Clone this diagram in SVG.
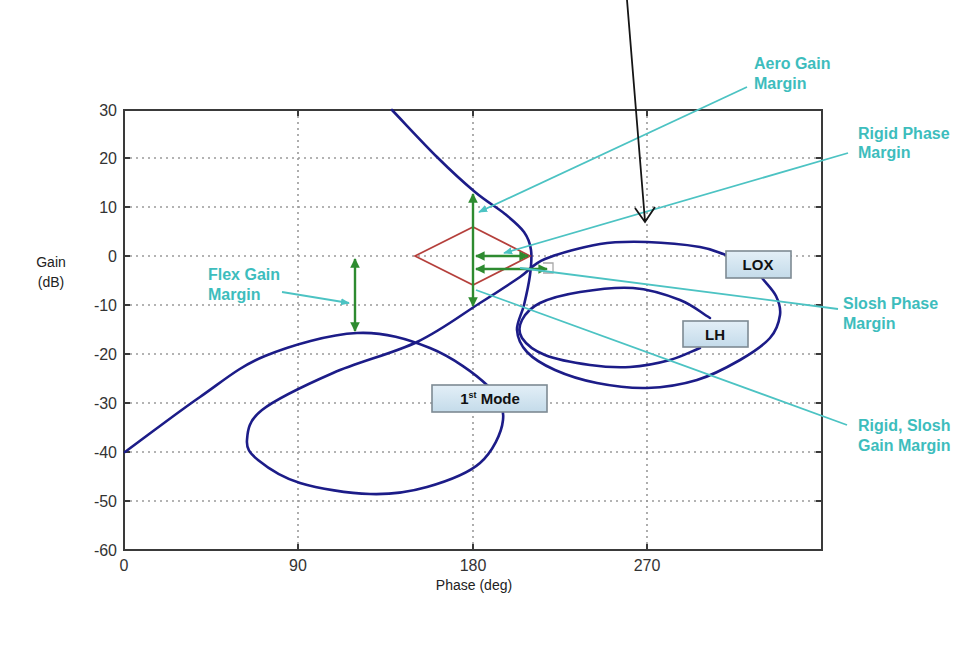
<svg xmlns="http://www.w3.org/2000/svg" width="973" height="668" viewBox="0 0 973 668">
<defs>
<style>
.grid{stroke:#9a9a9a;stroke-width:1.6;stroke-dasharray:2 4;fill:none}
.frame{stroke:#3a3a3a;stroke-width:2;fill:none}
.tick{stroke:#3a3a3a;stroke-width:2}
.ax{font-family:"Liberation Sans",Arial,sans-serif;font-size:16px;fill:#333}
.axl{font-family:"Liberation Sans",Arial,sans-serif;font-size:14px;fill:#222}
.curve{stroke:#1c1c88;stroke-width:2.6;fill:none;stroke-linejoin:round;stroke-linecap:round}
.green{stroke:#2e8b30;stroke-width:2.4;fill:none}
.cyan{stroke:#4cc3c3;stroke-width:1.8;fill:none}
.note{font-family:"Liberation Sans",Arial,sans-serif;font-size:16px;font-weight:bold;fill:#3dbdbd}
.box{fill:url(#boxg);stroke:#7d8a93;stroke-width:1.6}
.btxt{font-family:"Liberation Sans",Arial,sans-serif;font-size:15px;font-weight:bold;fill:#111;text-anchor:middle}
</style>
<linearGradient id="boxg" x1="0" y1="0" x2="0" y2="1">
<stop offset="0" stop-color="#e3eff7"/>
<stop offset="1" stop-color="#c4dbea"/>
</linearGradient>
<marker id="ga" viewBox="0 0 10 10" refX="9" refY="5" markerWidth="4" markerHeight="4" orient="auto-start-reverse">
<path d="M0,0 L10,5 L0,10 Z" fill="#2e8b30"/>
</marker>
<marker id="ca" viewBox="0 0 10 10" refX="9" refY="5" markerWidth="5" markerHeight="5" orient="auto">
<path d="M0,1 L10,5 L0,9 Z" fill="#4cc3c3"/>
</marker>
</defs>
<rect width="973" height="668" fill="#ffffff"/>

<g id="grid">
<path class="grid" d="M124,158H822M124,207H822M124,256H822M124,305H822M124,354H822M124,403H822M124,452H822M124,501H822M298,110V550M473,110V550M647,110V550"/>
<rect class="frame" x="124" y="110" width="698" height="440"/>
<path class="tick" d="M124,158h6M124,207h6M124,256h6M124,305h6M124,354h6M124,403h6M124,452h6M124,501h6M822,158h-6M822,207h-6M822,256h-6M822,305h-6M822,354h-6M822,403h-6M822,452h-6M822,501h-6M298,550v-6M473,550v-6M647,550v-6M298,110v6M473,110v6M647,110v6"/>
</g>

<g id="axis-labels">
<text class="ax" x="117" y="116" text-anchor="end">30</text>
<text class="ax" x="117" y="164" text-anchor="end">20</text>
<text class="ax" x="117" y="213" text-anchor="end">10</text>
<text class="ax" x="117" y="262" text-anchor="end">0</text>
<text class="ax" x="117" y="311" text-anchor="end">-10</text>
<text class="ax" x="117" y="360" text-anchor="end">-20</text>
<text class="ax" x="117" y="409" text-anchor="end">-30</text>
<text class="ax" x="117" y="458" text-anchor="end">-40</text>
<text class="ax" x="117" y="507" text-anchor="end">-50</text>
<text class="ax" x="117" y="556" text-anchor="end">-60</text>
<text class="ax" x="124" y="571" text-anchor="middle">0</text>
<text class="ax" x="298" y="571" text-anchor="middle">90</text>
<text class="ax" x="473" y="571" text-anchor="middle">180</text>
<text class="ax" x="647" y="571" text-anchor="middle">270</text>
<text class="axl" x="474" y="590" text-anchor="middle">Phase (deg)</text>
<text class="axl" x="51" y="267" text-anchor="middle">Gain</text>
<text class="axl" x="51" y="287" text-anchor="middle">(dB)</text>
</g>

<g id="curves">
<path id="main-curve" class="curve" d="M125,452 C150,433.7 176.7,413 200,397 S238.8,366.7 265,356 S329.5,334.3 357,333 S408.2,339.2 430,348 S475.8,374 488,386 S504.3,407.2 503,420 S492.7,451.8 480,463 S445.3,481.8 427,487 S391.2,494.7 370,494 S318.7,488.7 300,483 S266.8,467.2 258,460 S246.3,448.3 247,440 S247.7,421.2 262,410 S307.2,384.3 333,373 S392.5,353.7 417,342 S462.8,313.8 480,303 S509.2,284.3 520,277 S531.7,264.5 545,259 S583,246.8 600,244 S630.3,241.5 647,242 S686.8,244.8 700,247 S717.3,252.3 726,255"/>
<path id="lox-loop" class="curve" d="M762,278 C766.7,284 773,289.8 776,296 S781,308 780,315 S776.7,330.5 770,338 S752.2,353 740,360 S712.5,375.3 697,380 S663.7,387.5 647,388 S612.3,386 597,383 S566.7,375.2 555,370 S533.3,358.7 527,352 S517.5,337.8 517,330 S521.8,314.2 524,305 S528.8,284.2 530,275 S532,257.2 531,250 S528.3,238 524,232 S513.2,220.7 505,214 S486.3,201.5 475,192 S450.8,170.7 437,157 S407,125.7 392,110"/>
<path id="lh-loop" class="curve" d="M710,318 C700,312 692.8,305 680,300 S649.7,289.3 633,288 S595.5,289.5 580,292 S549.7,298.3 540,303 S525,314.2 522,320 S518.2,332.2 522,338 S533.7,350.5 545,355 S575.8,363 590,365 S616.7,367.8 630,367 S658.3,363.2 670,360 S690,352 700,348"/>
</g>

<g id="margins">
<path id="stability-diamond" d="M415,256 L473,227 L530,256 L473,285 Z" fill="none" stroke="#b5403c" stroke-width="1.7"/>
<line class="green" x1="473" y1="194" x2="473" y2="306" marker-start="url(#ga)" marker-end="url(#ga)"/>
<line class="green" x1="476" y1="256" x2="528" y2="256" marker-start="url(#ga)" marker-end="url(#ga)"/>
<line class="green" x1="476" y1="269" x2="547" y2="269" marker-start="url(#ga)" marker-end="url(#ga)"/>
<path d="M543,263 H553 V273 H543" fill="none" stroke="#a8a8a8" stroke-width="1.3"/>
<line class="green" x1="355" y1="259" x2="355" y2="331" marker-start="url(#ga)" marker-end="url(#ga)"/>
</g>

<g id="connectors">
<line class="cyan" x1="747" y1="87" x2="479" y2="212" marker-end="url(#ca)"/>
<line class="cyan" x1="848" y1="153" x2="504" y2="253" marker-end="url(#ca)"/>
<line class="cyan" x1="838" y1="309" x2="520" y2="268"/>
<line class="cyan" x1="847" y1="425" x2="476" y2="290"/>
<line class="cyan" x1="282" y1="292" x2="349" y2="303" marker-end="url(#ca)"/>
<path d="M627,0 L645,221 M635,208 L645,222 L655,207" fill="none" stroke="#151515" stroke-width="1.8"/>
</g>

<g id="label-aero">
<text class="note" x="754" y="69">Aero Gain</text>
<text class="note" x="754" y="89">Margin</text>
</g>
<g id="label-rigid-phase">
<text class="note" x="858" y="139">Rigid Phase</text>
<text class="note" x="858" y="158">Margin</text>
</g>
<g id="label-slosh-phase">
<text class="note" x="843" y="309">Slosh Phase</text>
<text class="note" x="843" y="329">Margin</text>
</g>
<g id="label-rigid-slosh">
<text class="note" x="858" y="431">Rigid, Slosh</text>
<text class="note" x="858" y="451">Gain Margin</text>
</g>
<g id="label-flex">
<text class="note" x="208" y="280">Flex Gain</text>
<text class="note" x="208" y="300">Margin</text>
</g>

<g id="node-lox">
<rect class="box" x="726" y="251" width="65" height="27"/>
<text class="btxt" x="758" y="270">LOX</text>
</g>
<g id="node-lh">
<rect class="box" x="683" y="321" width="65" height="26"/>
<text class="btxt" x="715" y="340">LH</text>
</g>
<g id="node-1st-mode">
<rect class="box" x="432" y="385" width="115" height="27"/>
<text class="btxt" x="490" y="404">1<tspan font-size="9" dy="-6">st</tspan><tspan dy="6"> Mode</tspan></text>
</g>
</svg>
